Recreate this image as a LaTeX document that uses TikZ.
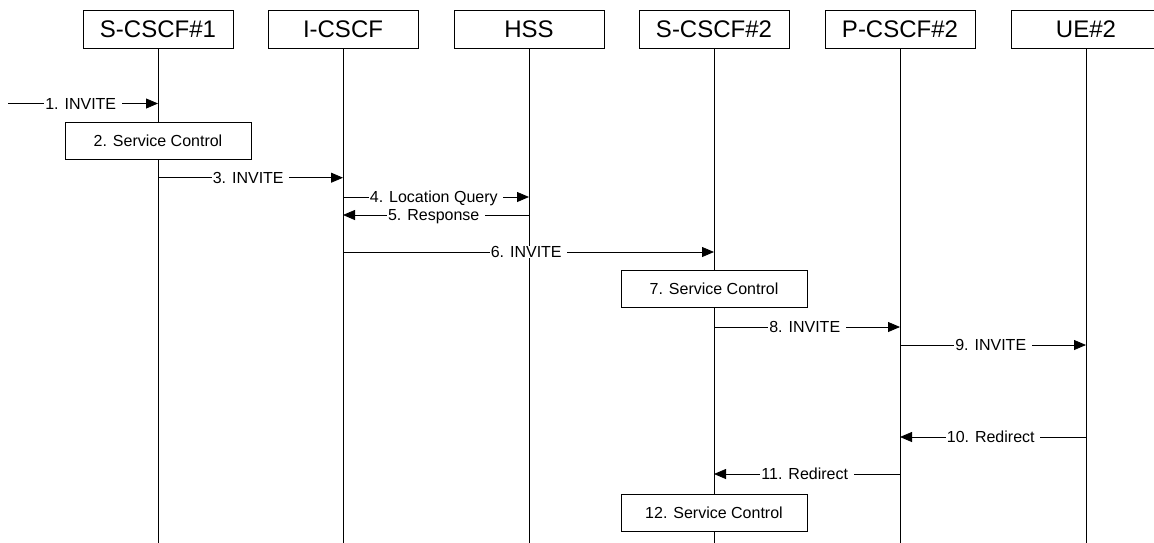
\documentclass[tikz,border=0pt]{standalone}
\usepackage{fontspec}
\setmainfont{Liberation Sans}
\usetikzlibrary{arrows.meta}
\begin{document}
\begin{tikzpicture}[x=1pt,y=-1pt,
  hdr/.style={draw, fill=white, minimum width=150pt, minimum height=38pt, inner sep=0pt, font=\fontsize{24}{28}\selectfont, line width=0.8pt},
  ctl/.style={draw, fill=white, minimum width=186pt, minimum height=37pt, inner sep=0pt, font=\fontsize{16}{19}\selectfont, line width=0.8pt},
  msg/.style={line width=0.8pt, -{Triangle[length=12pt,width=10pt]}},
  lbl/.style={fill=white, inner xsep=1pt, inner ysep=0pt, text height=11.5pt, text depth=0pt, font=\fontsize{16}{19}\selectfont},
  life/.style={line width=0.8pt}]
\newcommand\gapend{\kern4.5pt}
\useasboundingbox (0,0) rectangle (1154,542);
\clip (0,0) rectangle (1154,542);
% header boxes
\node[hdr] (h1) at (158,29) {S-CSCF\#1};
\node[hdr] (h2) at (343,29) {I-CSCF};
\node[hdr] (h3) at (529,29) {HSS};
\node[hdr] (h4) at (714,29) {S-CSCF\#2};
\node[hdr] (h5) at (900,29) {P-CSCF\#2};
\node[hdr] (h6) at (1086,29) {UE\#2};
% lifelines
\coordinate (bot) at (0,545);
\foreach \h in {h1,h2,h3,h4,h5,h6} {\draw[life] (\h.south) -- (\h.south |- bot);}
% row coordinates
\coordinate (in1) at (8,103.5);
\coordinate (y2) at (0,140.5);
\coordinate (y3) at (0,177.7);
\coordinate (y4) at (0,197);
\coordinate (y5) at (0,215);
\coordinate (y6) at (0,252);
\coordinate (y7) at (0,289);
\coordinate (y8) at (0,327);
\coordinate (y9) at (0,345);
\coordinate (y10) at (0,437);
\coordinate (y11) at (0,474);
\coordinate (y12) at (0,512.5);
% service control boxes
\node[ctl] (c2) at (h1 |- y2) {2. Service Control};
\node[ctl] (c7) at (h4 |- y7) {7. Service Control};
\node[ctl] (c12) at (h4 |- y12) {12. Service Control};
% messages
\draw[msg] (in1) -- node[lbl]{1. INVITE\gapend} (h1 |- in1);
\draw[msg] (h1 |- y3) -- node[lbl]{3. INVITE\gapend} (h2 |- y3);
\draw[msg] (h2 |- y4) -- node[lbl]{4. Location Query\gapend} (h3 |- y4);
\draw[msg] (h3 |- y5) -- node[lbl]{5. Response\gapend} (h2 |- y5);
\draw[msg] (h2 |- y6) -- node[lbl]{6. INVITE\gapend} (h4 |- y6);
\draw[msg] (h4 |- y8) -- node[lbl]{8. INVITE\gapend} (h5 |- y8);
\draw[msg] (h5 |- y9) -- node[lbl]{9. INVITE\gapend} (h6 |- y9);
\draw[msg] (h6 |- y10) -- node[lbl]{10. Redirect\gapend} (h5 |- y10);
\draw[msg] (h5 |- y11) -- node[lbl]{11. Redirect\gapend} (h4 |- y11);
\end{tikzpicture}
\end{document}
